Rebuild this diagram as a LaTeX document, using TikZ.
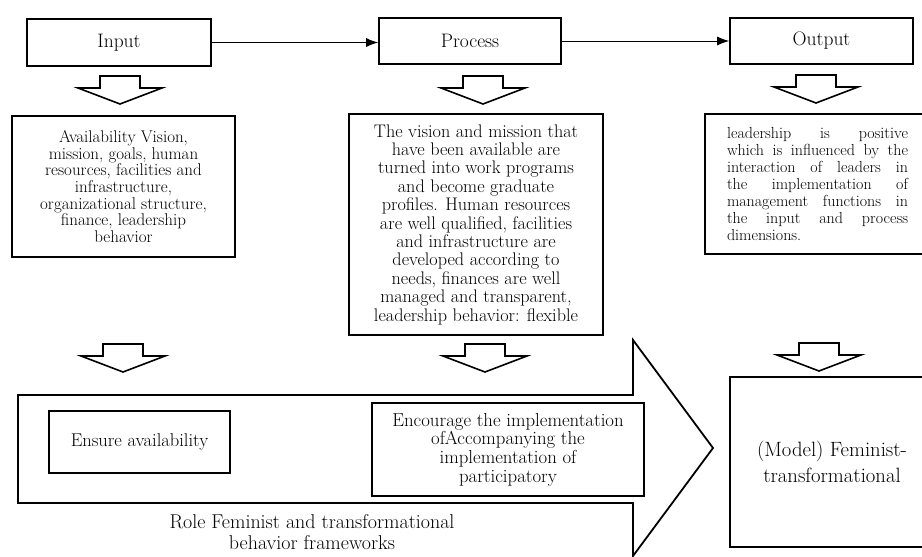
\documentclass[tikz,border=0pt]{standalone}
\usepackage{fontspec}
\setmainfont{Latin Modern Roman}
\usetikzlibrary{arrows.meta}
\begin{document}
\begin{tikzpicture}[x=1pt,y=-1pt,
  box/.style={draw,line width=1.6pt,rectangle,inner sep=0pt,fill=white,font=\fontsize{19.5}{21}\selectfont},
  cbox/.style={draw,line width=2pt,rectangle,inner sep=0pt,fill=white,align=center},
  conn/.style={line width=1pt,-{Latex[length=12pt,width=9pt]}},
  bigarrow/.style={draw,line width=1.8pt,line join=miter,fill=white},
  darr/.pic={\draw[line width=1.6pt,line join=miter,fill=white]
     (-20,0) -- (20,0) -- (20,12) -- (42,12) -- (0,28) -- (-42,12) -- (-20,12) -- cycle;}
]
\useasboundingbox (0,0) rectangle (922,557);
\clip (0,0) rectangle (922,557);
\fill[white] (0,0) rectangle (922,557);

% top row
\node[box,minimum width=184pt,minimum height=47pt] (in) at (119,42.5) {Input};
\node[box,minimum width=182pt,minimum height=46pt] (pr) at (470,41) {Process};
\node[box,minimum width=183pt,minimum height=46pt] (out) at (821.5,41) {Output};
\draw[conn] (in.east) -- (in.east -| pr.west);
\draw[conn] (pr.east) -- (pr.east -| out.west);

% first row of block arrows
\pic at (120,76) {darr};
\pic at (483,76) {darr};
\pic at (816,75) {darr};

% content boxes
\node[cbox,minimum width=223pt,minimum height=141pt,font=\fontsize{17}{16.7}\selectfont] (inb) at (123.5,186.5)
  {Availability Vision,\\mission, goals, human\\resources, facilities and\\infrastructure,\\organizational structure,\\finance, leadership\\behavior};
\node[cbox,minimum width=254pt,minimum height=221pt,font=\fontsize{18.2}{18.4}\selectfont] (prb) at (476,224.5)
  {The vision and mission that\\have been available are\\turned into work programs\\and become graduate\\profiles. Human resources\\are well qualified, facilities\\and infrastructure are\\developed according to\\needs, finances are well\\managed and transparent,\\leadership behavior: flexible};
\node[cbox,align=left,minimum width=225pt,minimum height=140pt,font=\fontsize{16}{17}\selectfont] (outb) at (817.5,184)
  {\makebox[181pt][s]{leadership is positive}\\
   \makebox[181pt][s]{which is influenced by the}\\
   \makebox[181pt][s]{interaction of leaders in}\\
   \makebox[181pt][s]{the implementation of}\\
   \makebox[181pt][s]{management functions in}\\
   \makebox[181pt][s]{the input and process}\\
   dimensions.};

% second row of block arrows
\pic at (123,344) {darr};
\pic at (485,344) {darr};
\pic at (819,343) {darr};

% big arrow
\path[bigarrow] (18,395) -- (633,395) -- (633,340) -- (713,448) -- (633,556) -- (633,503) -- (18,503) -- cycle;
\node[cbox,minimum width=181pt,minimum height=62pt,font=\fontsize{18.5}{19}\selectfont] (ens) at (139.5,442) {Ensure availability};
\node[cbox,minimum width=272pt,minimum height=93pt,font=\fontsize{18.8}{18.7}\selectfont] (enc) at (508,449.5)
  {Encourage the implementation\\ofAccompanying the\\implementation of\\participatory};
\node[align=center,font=\fontsize{20}{20.5}\selectfont] (lab) at (312,532) {Role Feminist and transformational\\behavior frameworks};

% model box
\node[cbox,minimum width=204pt,minimum height=170pt,font=\fontsize{20.7}{26}\selectfont] (model) at (832,462)
  {(Model) Feminist-\\transformational};
\end{tikzpicture}
\end{document}
